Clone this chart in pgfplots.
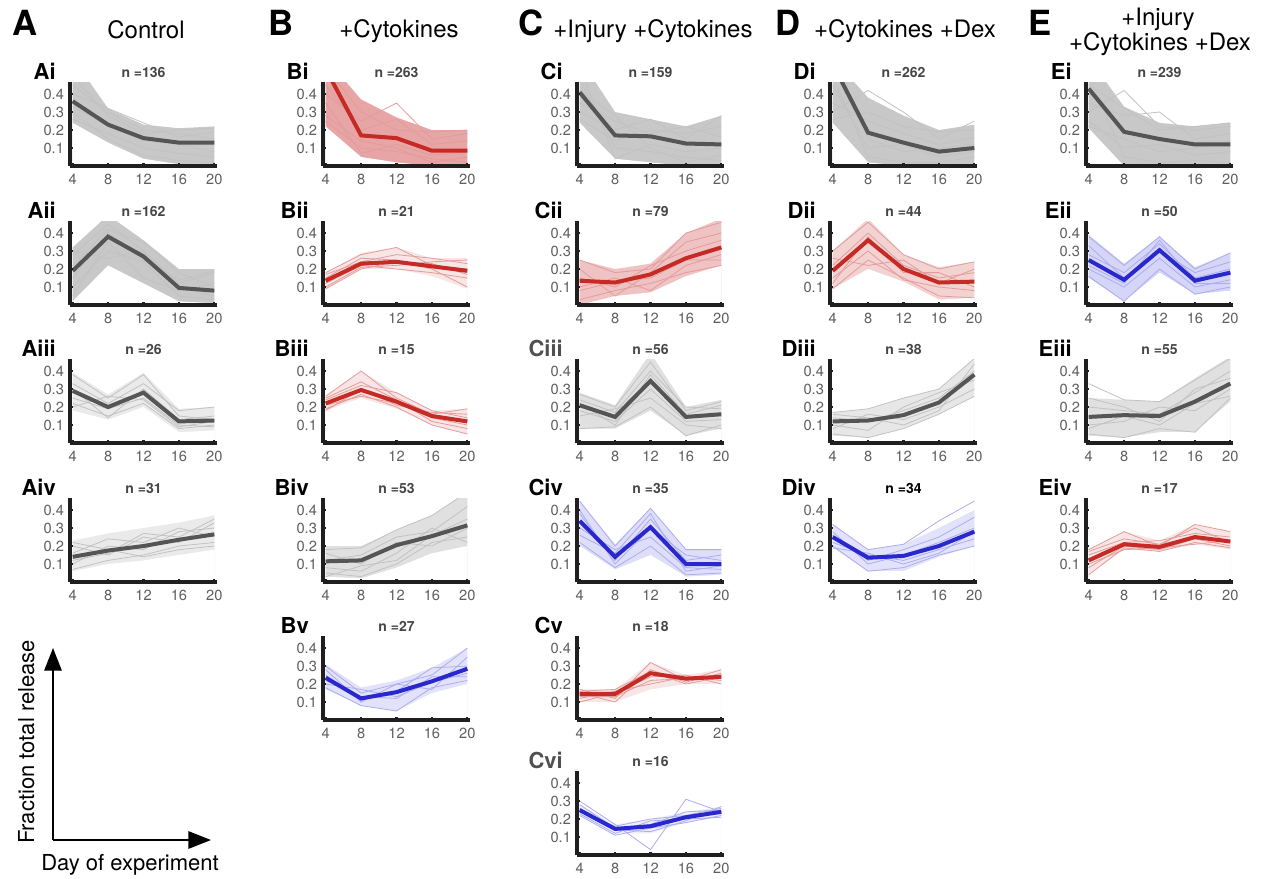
\documentclass[border=0pt]{standalone}
\usepackage{pgfplots}
\pgfplotsset{compat=1.18}
\usepackage{pgfplotstable}
\usetikzlibrary{arrows.meta}
\usepackage{fontspec}
\setmainfont{TeX Gyre Heros}
\definecolor{gthin}{RGB}{194,194,194}
\definecolor{gmean}{RGB}{85,85,85}
\definecolor{rthin}{RGB}{228,155,155}
\definecolor{rmean}{RGB}{198,42,36}
\definecolor{bthin}{RGB}{172,172,240}
\definecolor{bmean}{RGB}{40,40,205}
\definecolor{tickgray}{RGB}{95,95,95}
\definecolor{titgray}{RGB}{70,70,70}
\definecolor{labgray}{RGB}{80,80,80}
\newcommand\ticfont{\fontsize{11}{13}\selectfont}
\newcommand\titfont{\fontsize{10.5}{12}\selectfont\bfseries}
\newcommand\labfont{\fontsize{16.5}{18}\selectfont\bfseries}
\newcommand\bigfont{\fontsize{26}{28}\selectfont\bfseries}
\newcommand\headfont{\fontsize{18}{20}\selectfont}
\pgfplotsset{panel/.style={
  scale only axis, width=110.25pt, height=63pt, anchor=south west,
  xmin=3.7, xmax=20.3, ymin=0, ymax=0.467,
  axis x line*=bottom, axis y line*=left,
  axis line style={line width=2.4pt, black!88},
  xtick={4,8,12,16,20}, ytick={0.1,0.2,0.3,0.4},
  xticklabels={4,8,12,16,20}, yticklabels={0.1,0.2,0.3,0.4},
  tick align=inside, major tick length=2.5pt,
  tick style={line width=1.6pt, black!88},
  tick label style={font=\ticfont, text=tickgray},
  xticklabel style={yshift=-2.5pt},
  yticklabel style={xshift=-1pt},
  /pgf/number format/assume math mode=true,
  every axis title/.style={at={(0.5,1)}, anchor=base, yshift=3.75pt, font=\titfont},
  axis on top, clip=true,
}}
\newcommand\panel[9]{%
\begin{axis}[panel, at={(#1*0.75pt,-#2*0.75pt)}, title={n =#4}, title style={text=#9}]
 \addplot[fill=#5thin!#6!white, draw=none] table[x=x,y=hi]{#7} \closedcycle;
 \addplot[fill=white, draw=none] table[x=x,y=lo]{#7} \closedcycle;
 \pgfplotsinvokeforeach{a,b,c,d,e,f}{\addplot[#5thin, line width=0.6pt] table[x=x,y=##1]{#7};}
 \addplot[#5mean, line width=3pt] table[x=x,y=m]{#7};
\end{axis}
\node[anchor=base east, font=\labfont, text=#8, inner sep=0pt] at ({(#1-14)*0.75pt},{-(#2-87)*0.75pt}) {#3};
}
% ---------- data: x, mean, envelope lo/hi, six single traces ----------
\pgfplotstableread{
x m lo hi a b c d e f
4 0.36 0.24 0.60 0.45 0.26 0.50 0.30 0.40 0.33
8 0.23 0.13 0.32 0.30 0.18 0.28 0.15 0.32 0.22
12 0.155 0.04 0.23 0.20 0.10 0.18 0.06 0.24 0.14
16 0.13 0.01 0.21 0.18 0.07 0.20 0.03 0.16 0.12
20 0.13 0.01 0.22 0.15 0.05 0.21 0.02 0.19 0.08
}\TAi
\pgfplotstableread{
x m lo hi a b c d e f
4 0.19 0.02 0.32 0.28 0.10 0.22 0.05 0.30 0.15
8 0.38 0.22 0.50 0.45 0.30 0.42 0.35 0.26 0.40
12 0.27 0.12 0.36 0.30 0.24 0.35 0.15 0.30 0.25
16 0.095 0.02 0.20 0.12 0.05 0.18 0.08 0.10 0.14
20 0.08 0.01 0.20 0.18 0.03 0.10 0.12 0.05 0.19
}\TAii
\pgfplotstableread{
x m lo hi a b c d e f
4 0.29 0.18 0.39 0.38 0.22 0.33 0.25 0.30 0.20
8 0.20 0.13 0.27 0.25 0.15 0.22 0.19 0.14 0.26
12 0.28 0.20 0.39 0.38 0.22 0.33 0.25 0.30 0.24
16 0.12 0.06 0.19 0.15 0.08 0.18 0.10 0.13 0.09
20 0.125 0.07 0.20 0.13 0.10 0.20 0.09 0.15 0.12
}\TAiii
\pgfplotstableread{
x m lo hi a b c d e f
4 0.14 0.06 0.23 0.10 0.20 0.07 0.16 0.12 0.22
8 0.175 0.10 0.27 0.20 0.15 0.12 0.24 0.16 0.18
12 0.20 0.12 0.30 0.18 0.25 0.15 0.22 0.27 0.14
16 0.235 0.15 0.33 0.28 0.22 0.20 0.30 0.25 0.18
20 0.265 0.18 0.37 0.30 0.33 0.22 0.25 0.35 0.20
}\TAiv
\pgfplotstableread{
x m lo hi a b c d e f
4 0.54 0.22 0.60 0.40 0.25 0.55 0.35 0.45 0.28
8 0.17 0.05 0.37 0.25 0.10 0.30 0.07 0.20 0.14
12 0.155 0.02 0.27 0.35 0.08 0.20 0.12 0.26 0.10
16 0.085 0.00 0.20 0.15 0.04 0.19 0.06 0.12 0.02
20 0.085 0.00 0.20 0.18 0.02 0.20 0.08 0.14 0.05
}\TBi
\pgfplotstableread{
x m lo hi a b c d e f
4 0.135 0.09 0.18 0.18 0.10 0.15 0.12 0.17 0.09
8 0.23 0.20 0.29 0.28 0.21 0.26 0.22 0.24 0.20
12 0.24 0.20 0.32 0.32 0.22 0.25 0.20 0.28 0.24
16 0.215 0.16 0.26 0.22 0.24 0.20 0.18 0.26 0.23
20 0.19 0.09 0.26 0.20 0.25 0.10 0.15 0.23 0.17
}\TBii
\pgfplotstableread{
x m lo hi a b c d e f
4 0.22 0.18 0.26 0.26 0.19 0.24 0.21 0.18 0.25
8 0.295 0.25 0.40 0.40 0.27 0.32 0.26 0.30 0.34
12 0.23 0.19 0.28 0.25 0.20 0.28 0.22 0.21 0.24
16 0.15 0.10 0.18 0.16 0.10 0.18 0.14 0.17 0.12
20 0.12 0.05 0.19 0.19 0.05 0.14 0.10 0.16 0.08
}\TBiii
\pgfplotstableread{
x m lo hi a b c d e f
4 0.115 0.03 0.20 0.18 0.05 0.12 0.08 0.16 0.03
8 0.12 0.02 0.20 0.19 0.03 0.15 0.06 0.10 0.09
12 0.205 0.08 0.29 0.29 0.10 0.25 0.16 0.22 0.12
16 0.255 0.16 0.37 0.37 0.22 0.28 0.30 0.20 0.26
20 0.315 0.20 0.50 0.50 0.25 0.42 0.22 0.30 0.35
}\TBiv
\pgfplotstableread{
x m lo hi a b c d e f
4 0.235 0.17 0.31 0.30 0.18 0.25 0.20 0.28 0.22
8 0.12 0.08 0.18 0.15 0.08 0.11 0.17 0.10 0.13
12 0.155 0.05 0.22 0.20 0.05 0.16 0.13 0.20 0.12
16 0.215 0.15 0.29 0.25 0.18 0.29 0.21 0.17 0.24
20 0.285 0.20 0.40 0.40 0.22 0.30 0.26 0.35 0.24
}\TBv
\pgfplotstableread{
x m lo hi a b c d e f
4 0.41 0.24 0.60 0.30 0.48 0.35 0.55 0.26 0.42
8 0.17 0.04 0.30 0.20 0.10 0.25 0.04 0.14 0.28
12 0.165 0.02 0.26 0.26 0.08 0.18 0.12 0.20 0.10
16 0.125 0.00 0.22 0.15 0.05 0.22 0.08 0.18 0.02
20 0.12 0.00 0.28 0.28 0.03 0.16 0.10 0.22 0.06
}\TCi
\pgfplotstableread{
x m lo hi a b c d e f
4 0.135 0.00 0.25 0.25 0.03 0.15 0.10 0.20 0.08
8 0.125 0.05 0.20 0.18 0.08 0.10 0.15 0.05 0.13
12 0.17 0.07 0.23 0.20 0.12 0.22 0.08 0.18 0.15
16 0.26 0.16 0.40 0.40 0.18 0.30 0.22 0.35 0.25
20 0.32 0.22 0.48 0.46 0.22 0.36 0.28 0.40 0.25
}\TCii
\pgfplotstableread{
x m lo hi a b c d e f
4 0.21 0.08 0.28 0.27 0.08 0.18 0.24 0.15 0.22
8 0.145 0.08 0.21 0.20 0.09 0.12 0.17 0.19 0.10
12 0.345 0.18 0.50 0.45 0.20 0.30 0.40 0.25 0.38
16 0.145 0.04 0.20 0.18 0.04 0.12 0.20 0.10 0.16
20 0.16 0.08 0.24 0.23 0.10 0.13 0.19 0.08 0.21
}\TCiii
\pgfplotstableread{
x m lo hi a b c d e f
4 0.34 0.20 0.45 0.45 0.22 0.38 0.30 0.40 0.26
8 0.14 0.07 0.21 0.20 0.08 0.12 0.18 0.10 0.16
12 0.305 0.15 0.41 0.41 0.20 0.35 0.25 0.30 0.38
16 0.10 0.03 0.18 0.18 0.04 0.12 0.08 0.15 0.06
20 0.10 0.04 0.18 0.18 0.05 0.15 0.07 0.12 0.09
}\TCiv
\pgfplotstableread{
x m lo hi a b c d e f
4 0.145 0.10 0.17 0.17 0.12 0.15 0.10 0.16 0.13
8 0.145 0.10 0.17 0.12 0.16 0.10 0.15 0.17 0.13
12 0.26 0.17 0.32 0.32 0.20 0.28 0.24 0.27 0.22
16 0.23 0.20 0.25 0.22 0.24 0.21 0.25 0.20 0.23
20 0.24 0.20 0.28 0.28 0.22 0.26 0.20 0.24 0.25
}\TCv
\pgfplotstableread{
x m lo hi a b c d e f
4 0.25 0.22 0.28 0.30 0.23 0.26 0.24 0.22 0.28
8 0.145 0.12 0.17 0.17 0.12 0.14 0.16 0.11 0.15
12 0.16 0.12 0.20 0.03 0.19 0.13 0.20 0.15 0.17
16 0.21 0.18 0.24 0.31 0.20 0.19 0.22 0.18 0.24
20 0.24 0.21 0.27 0.24 0.21 0.27 0.26 0.22 0.25
}\TCvi
\pgfplotstableread{
x m lo hi a b c d e f
4 0.567 0.24 0.60 0.30 0.50 0.35 0.45 0.26 0.55
8 0.185 0.02 0.38 0.42 0.05 0.25 0.10 0.30 0.15
12 0.13 0.00 0.28 0.30 0.02 0.18 0.12 0.22 0.08
16 0.08 0.00 0.20 0.15 0.02 0.12 0.05 0.19 0.10
20 0.10 0.00 0.23 0.25 0.05 0.16 0.08 0.20 0.12
}\TDi
\pgfplotstableread{
x m lo hi a b c d e f
4 0.19 0.09 0.30 0.30 0.09 0.22 0.15 0.26 0.12
8 0.36 0.20 0.48 0.46 0.25 0.40 0.30 0.22 0.38
12 0.20 0.13 0.28 0.28 0.15 0.22 0.14 0.25 0.18
16 0.125 0.03 0.21 0.20 0.05 0.15 0.10 0.12 0.18
20 0.13 0.04 0.24 0.24 0.04 0.18 0.08 0.20 0.10
}\TDii
\pgfplotstableread{
x m lo hi a b c d e f
4 0.12 0.04 0.17 0.17 0.05 0.14 0.08 0.10 0.16
8 0.125 0.03 0.19 0.19 0.03 0.12 0.16 0.07 0.14
12 0.155 0.08 0.25 0.25 0.08 0.18 0.13 0.20 0.10
16 0.225 0.16 0.30 0.30 0.16 0.25 0.20 0.28 0.18
20 0.38 0.26 0.47 0.47 0.26 0.40 0.30 0.35 0.44
}\TDiii
\pgfplotstableread{
x m lo hi a b c d e f
4 0.25 0.19 0.32 0.32 0.20 0.28 0.22 0.26 0.19
8 0.135 0.06 0.18 0.18 0.06 0.10 0.15 0.12 0.16
12 0.145 0.06 0.21 0.21 0.08 0.15 0.12 0.18 0.10
16 0.20 0.14 0.30 0.34 0.15 0.22 0.18 0.25 0.16
20 0.28 0.20 0.40 0.45 0.20 0.30 0.24 0.36 0.28
}\TDiv
\pgfplotstableread{
x m lo hi a b c d e f
4 0.43 0.21 0.60 0.30 0.50 0.35 0.25 0.45 0.22
8 0.19 0.00 0.33 0.42 0.05 0.28 0.10 0.32 0.15
12 0.15 0.00 0.24 0.22 0.02 0.30 0.12 0.20 0.08
16 0.12 0.00 0.22 0.20 0.03 0.15 0.06 0.22 0.10
20 0.12 0.00 0.24 0.22 0.02 0.18 0.08 0.24 0.14
}\TEi
\pgfplotstableread{
x m lo hi a b c d e f
4 0.25 0.15 0.39 0.38 0.16 0.28 0.20 0.33 0.22
8 0.14 0.02 0.23 0.22 0.02 0.18 0.10 0.15 0.12
12 0.305 0.18 0.38 0.38 0.20 0.34 0.26 0.30 0.36
16 0.135 0.06 0.21 0.20 0.06 0.15 0.10 0.18 0.12
20 0.18 0.08 0.29 0.29 0.10 0.20 0.14 0.24 0.12
}\TEii
\pgfplotstableread{
x m lo hi a b c d e f
4 0.145 0.04 0.25 0.33 0.05 0.20 0.10 0.25 0.08
8 0.155 0.03 0.24 0.24 0.03 0.18 0.12 0.20 0.15
12 0.15 0.06 0.23 0.23 0.08 0.16 0.20 0.12 0.10
16 0.23 0.06 0.36 0.35 0.06 0.28 0.18 0.30 0.22
20 0.33 0.23 0.48 0.47 0.25 0.40 0.30 0.36 0.26
}\TEiii
\pgfplotstableread{
x m lo hi a b c d e f
4 0.12 0.04 0.18 0.18 0.04 0.15 0.08 0.17 0.10
8 0.21 0.18 0.28 0.28 0.19 0.22 0.20 0.24 0.18
12 0.195 0.17 0.23 0.20 0.17 0.23 0.18 0.21 0.19
16 0.25 0.21 0.32 0.32 0.22 0.27 0.24 0.30 0.21
20 0.225 0.18 0.28 0.28 0.19 0.25 0.20 0.22 0.23
}\TEiv
\begin{document}
\begin{tikzpicture}
\path[use as bounding box] (0,0) rectangle (949.5pt,-658.5pt);
% column headings
\node[anchor=base west, font=\bigfont, inner sep=0pt] at (12*0.75pt,-36*0.75pt) {A};
\node[anchor=base, font=\headfont, inner sep=0pt] at (146*0.75pt,-38*0.75pt) {Control};
\node[anchor=base west, font=\bigfont, inner sep=0pt] at (268*0.75pt,-36*0.75pt) {B};
\node[anchor=base, font=\headfont, inner sep=0pt] at (399*0.75pt,-37*0.75pt) {+Cytokines};
\node[anchor=base west, font=\bigfont, inner sep=0pt] at (518*0.75pt,-36*0.75pt) {C};
\node[anchor=base, font=\headfont, inner sep=0pt] at (653*0.75pt,-37*0.75pt) {+Injury +Cytokines};
\node[anchor=base west, font=\bigfont, inner sep=0pt] at (775*0.75pt,-36*0.75pt) {D};
\node[anchor=base, font=\headfont, inner sep=0pt] at (905*0.75pt,-37*0.75pt) {+Cytokines +Dex};
\node[anchor=base west, font=\bigfont, inner sep=0pt] at (1028*0.75pt,-35*0.75pt) {E};
\node[anchor=base, font=\headfont, inner sep=0pt] at (1158*0.75pt,-25*0.75pt) {+Injury};
\node[anchor=base, font=\headfont, inner sep=0pt] at (1160*0.75pt,-50*0.75pt) {+Cytokines +Dex};
% column A
\panel{70}{166}{Ai}{136}{g}{90}{\TAi}{black}{titgray}
\panel{70}{305}{Aii}{162}{g}{90}{\TAii}{black}{titgray}
\panel{70}{443}{Aiii}{26}{g}{35}{\TAiii}{black}{titgray}
\panel{70}{582}{Aiv}{31}{g}{35}{\TAiv}{black}{titgray}
% column B
\panel{323}{166}{Bi}{263}{r}{90}{\TBi}{black}{titgray}
\panel{323}{305}{Bii}{21}{r}{25}{\TBii}{black}{titgray}
\panel{323}{443}{Biii}{15}{r}{25}{\TBiii}{black}{titgray}
\panel{323}{582}{Biv}{53}{g}{50}{\TBiv}{black}{titgray}
\panel{323}{720}{Bv}{27}{b}{35}{\TBv}{black}{titgray}
% column C
\panel{577}{166}{Ci}{159}{g}{90}{\TCi}{black}{titgray}
\panel{577}{305}{Cii}{79}{r}{60}{\TCii}{black}{titgray}
\panel{577}{443}{Ciii}{56}{g}{50}{\TCiii}{labgray}{titgray}
\panel{577}{582}{Civ}{35}{b}{40}{\TCiv}{black}{titgray}
\panel{577}{720}{Cv}{18}{r}{25}{\TCv}{black}{titgray}
\panel{577}{855}{Cvi}{16}{b}{20}{\TCvi}{labgray}{titgray}
% column D
\panel{830}{166}{Di}{262}{g}{90}{\TDi}{black}{titgray}
\panel{830}{305}{Dii}{44}{r}{45}{\TDii}{black}{titgray}
\panel{830}{443}{Diii}{38}{g}{40}{\TDiii}{black}{titgray}
\panel{830}{582}{Div}{34}{b}{35}{\TDiv}{black}{black}
% column E
\panel{1086}{166}{Ei}{239}{g}{90}{\TEi}{black}{titgray}
\panel{1086}{305}{Eii}{50}{b}{50}{\TEii}{black}{titgray}
\panel{1086}{443}{Eiii}{55}{g}{50}{\TEiii}{black}{titgray}
\panel{1086}{582}{Eiv}{17}{r}{25}{\TEiv}{black}{titgray}
% schematic axes
\draw[line width=1.5pt, -{Triangle[length=17pt, width=13pt]}] (53*0.75pt,-840*0.75pt) -- (53*0.75pt,-648*0.75pt);
\draw[line width=1.5pt, -{Triangle[length=17pt, width=13pt]}] (53*0.75pt,-840*0.75pt) -- (211*0.75pt,-840*0.75pt);
\node[rotate=90, anchor=base, font=\fontsize{16.5}{18}\selectfont, inner sep=0pt] at (34*0.75pt,-742*0.75pt) {Fraction total release};
\node[anchor=base, font=\fontsize{16.5}{18}\selectfont, inner sep=0pt] at (130*0.75pt,-870*0.75pt) {Day of experiment};
\end{tikzpicture}
\end{document}
